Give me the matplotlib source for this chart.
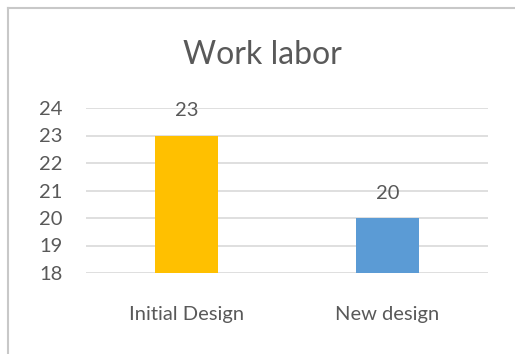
import matplotlib.pyplot as plt
from matplotlib.lines import Line2D

# Work labor comparison between designs
categories = ["Initial Design", "New design"]
values = [23, 20]
colors = ["#FFC000", "#5B9BD5"]
yticks = [18, 19, 20, 21, 22, 23, 24]

plt.rcParams['font.family'] = ['Lato', 'DejaVu Sans']
text_color = "#595959"

fig = plt.figure(figsize=(5.15, 3.54), dpi=100)
ax = fig.add_axes([86 / 515, 1 - 273 / 354, 402 / 515, 165 / 354])

x = [0, 1]
ax.bar(x, values, width=0.31, color=colors, zorder=3)
for xi, v in zip(x, values):
    ax.text(xi, v + 0.9, str(v), ha='center', va='center', fontsize=14.5, color=text_color)

ax.set_xlim(-0.5, 1.5)
ax.set_ylim(18, 24)
ax.set_yticks(yticks)
ax.set_yticklabels([str(t) for t in yticks], fontsize=14.5, color=text_color)
ax.set_xticks(x)
ax.set_xticklabels(categories, fontsize=14.5, color=text_color)
ax.tick_params(axis='both', length=0)
ax.tick_params(axis='y', pad=17)
ax.tick_params(axis='x', pad=24)
ax.grid(axis='y', color='#D9D9D9', linewidth=1.2, zorder=0)
for s in ax.spines.values():
    s.set_visible(False)

fig.text(262 / 515, 1 - 55 / 354, "Work labor", ha='center', va='center',
         fontsize=23, color=text_color)

# chart frame along the top and left edges
fig.add_artist(Line2D([8 / 515, 8 / 515], [0, 1 - 8 / 354], color='#C8C8C8', linewidth=1.5))
fig.add_artist(Line2D([8 / 515, 1], [1 - 8 / 354, 1 - 8 / 354], color='#C8C8C8', linewidth=1.5))

fig.savefig("out.png", dpi=100)
